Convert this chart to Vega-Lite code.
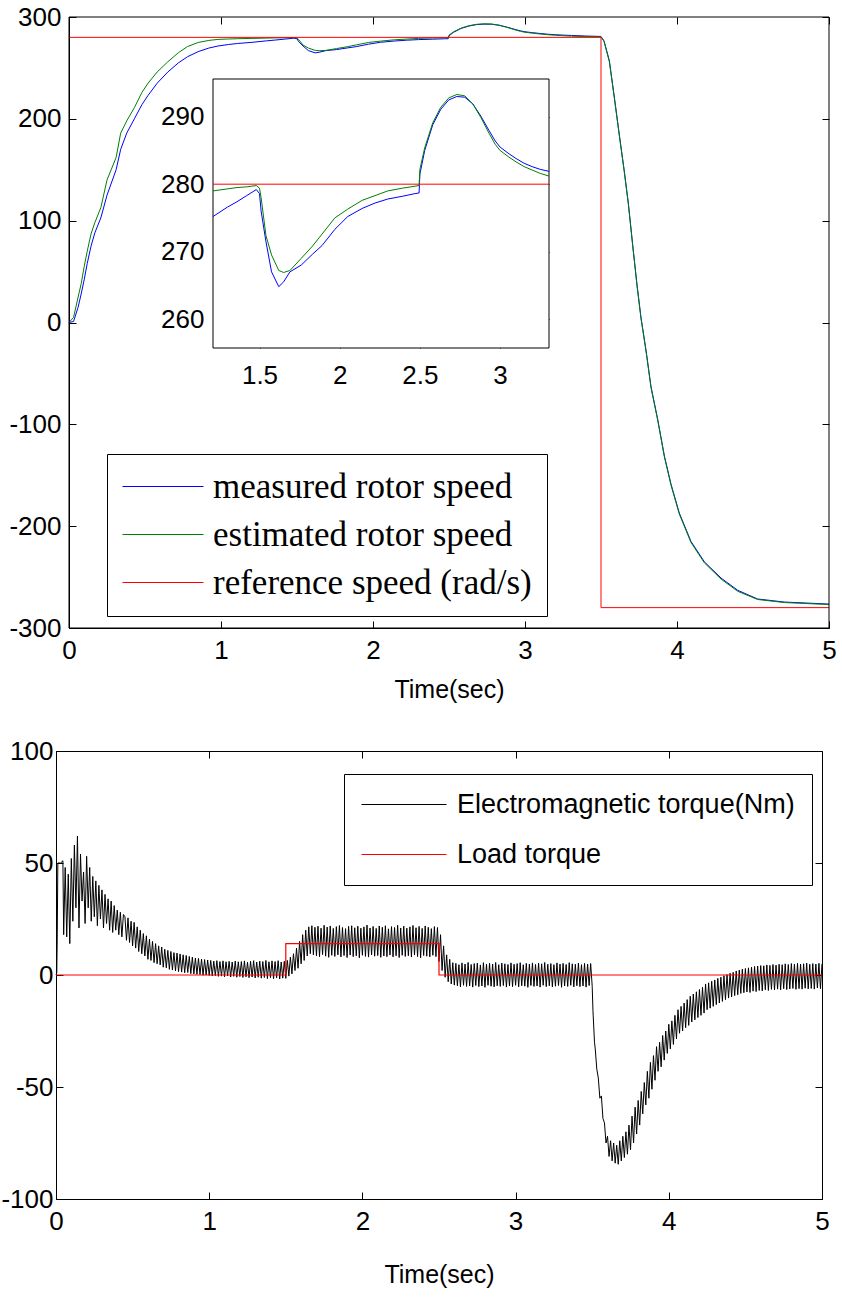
{
  "$schema": "https://vega.github.io/schema/vega-lite/v6.json",
  "background": "white",
  "padding": {"left": 0, "top": 4, "right": 5, "bottom": 5},
  "spacing": 35,
  "resolve": {"scale": {"x": "independent", "y": "independent", "color": "independent"}},
  "config": {
    "view": {"stroke": "black", "strokeWidth": 1},
    "axis": {"grid": false, "labelFont": "Liberation Sans", "labelFontSize": 26, "labelColor": "black", "tickColor": "black", "domainColor": "black", "tickSize": -7, "labelPadding": 15, "labelFlush": false, "labelOverlap": false, "titleFont": "Liberation Sans", "titleFontSize": 25, "titleFontWeight": "normal", "titleColor": "black", "zindex": 1},
    "legend": {"orient": "none", "direction": "vertical", "title": null, "symbolType": "stroke", "symbolStrokeWidth": 1, "strokeColor": "black", "fillColor": "white", "labelColor": "black", "labelLimit": 1000}
  },
  "datasets": {
    "speed": [
      {"t":0,"m":0,"e":0},{"t":0.03,"m":1,"e":5},{"t":0.06,"m":15,"e":25},{"t":0.08,"m":28,"e":38},{"t":0.1,"m":42,"e":55},{"t":0.12,"m":58,"e":70},{"t":0.145,"m":75,"e":87},{"t":0.17,"m":88,"e":98},{"t":0.21,"m":103,"e":113},{"t":0.25,"m":125,"e":140},{"t":0.31,"m":150,"e":162},{"t":0.34,"m":170,"e":186},{"t":0.38,"m":186,"e":198},{"t":0.43,"m":200,"e":211},{"t":0.48,"m":214,"e":226},{"t":0.52,"m":223,"e":235},{"t":0.58,"m":235,"e":246},{"t":0.65,"m":246,"e":256},{"t":0.72,"m":255,"e":265},{"t":0.78,"m":261,"e":271},{"t":0.85,"m":266,"e":275},{"t":0.92,"m":269.5,"e":277},{"t":0.98,"m":271.5,"e":278},{"t":1.05,"m":273,"e":278.4},{"t":1.11,"m":274,"e":278.7},{"t":1.21,"m":275.2,"e":279.0},{"t":1.3,"m":276.6,"e":279.3},{"t":1.36,"m":277.4,"e":279.5},{"t":1.42,"m":278.3,"e":279.6},{"t":1.48,"m":279.2,"e":279.8},{"t":1.5,"m":278.6,"e":279.4},{"t":1.51,"m":276,"e":278},{"t":1.54,"m":271.5,"e":272.4},{"t":1.575,"m":267,"e":269.5},{"t":1.62,"m":264.8,"e":267.2},{"t":1.65,"m":265.5,"e":266.9},{"t":1.69,"m":267,"e":267.2},{"t":1.76,"m":268,"e":269},{"t":1.83,"m":269.6,"e":270.8},{"t":1.89,"m":270.9,"e":272.6},{"t":1.97,"m":273.3,"e":275},{"t":2.05,"m":275.2,"e":276.3},{"t":2.14,"m":276.4,"e":277.6},{"t":2.22,"m":277.2,"e":278.3},{"t":2.3,"m":277.8,"e":279},{"t":2.39,"m":278.2,"e":279.4},{"t":2.47,"m":278.6,"e":279.7},{"t":2.495,"m":278.7,"e":279.8},{"t":2.5,"m":281.5,"e":282.2},{"t":2.53,"m":285,"e":285.4},{"t":2.58,"m":288.8,"e":289.1},{"t":2.63,"m":291.1,"e":291.4},{"t":2.68,"m":292.5,"e":292.8},{"t":2.73,"m":293.0,"e":293.3},{"t":2.78,"m":292.9,"e":293.1},{"t":2.83,"m":291.9,"e":291.9},{"t":2.88,"m":290.1,"e":289.9},{"t":2.93,"m":288.0,"e":287.6},{"t":2.97,"m":286.4,"e":285.9},{"t":3.0,"m":285.5,"e":285.0},{"t":3.05,"m":284.6,"e":284.1},{"t":3.1,"m":283.8,"e":283.3},{"t":3.15,"m":283.1,"e":282.6},{"t":3.2,"m":282.6,"e":282.1},{"t":3.25,"m":282.2,"e":281.6},{"t":3.305,"m":281.9,"e":281.2},{"t":3.4,"m":281.3,"e":280.8},{"t":3.5,"m":280.9,"e":280.6},{"t":3.52,"m":276.5,"e":276},{"t":3.555,"m":257,"e":256},{"t":3.588,"m":221,"e":220},{"t":3.62,"m":185,"e":184},{"t":3.653,"m":149,"e":148},{"t":3.68,"m":117,"e":116},{"t":3.708,"m":77,"e":76},{"t":3.737,"m":37,"e":36},{"t":3.763,"m":5,"e":4},{"t":3.796,"m":-27,"e":-28},{"t":3.829,"m":-63,"e":-64},{"t":3.873,"m":-95,"e":-96},{"t":3.917,"m":-131,"e":-132},{"t":3.961,"m":-159,"e":-160},{"t":4.015,"m":-187,"e":-188},{"t":4.092,"m":-215,"e":-216},{"t":4.18,"m":-235,"e":-236},{"t":4.29,"m":-251,"e":-252},{"t":4.4,"m":-263,"e":-264},{"t":4.53,"m":-271.5,"e":-272},{"t":4.706,"m":-274.5,"e":-275},{"t":5,"m":-276.5,"e":-277}
    ],
    "ref": [
      {"t":0,"r":280},{"t":1.21,"r":280},{"t":3.305,"r":280},{"t":3.5,"r":-280},{"t":5,"r":-280}
    ],
    "load": [
      {"t":0,"L":0},{"t":1.5,"L":14},{"t":2.5,"L":0},{"t":5,"L":0}
    ],
    "torque": [
      {"t":0,"E":0},{"t":0.005,"E":1},{"t":0.008,"E":16},{"t":0.012,"E":50},{"t":0.03,"E":50},{"t":0.045,"E":51},{"t":0.05,"E":18},{"t":0.06,"E":48},{"t":0.07,"E":17},{"t":0.08,"E":45},{"t":0.09,"E":14},{"t":0.1,"E":52},{"t":0.11,"E":24},{"t":0.12,"E":58},{"t":0.13,"E":30},{"t":0.14,"E":62},{"t":0.15,"E":21},{"t":0.16,"E":54},{"t":0.17,"E":33},{"t":0.18,"E":46},{"t":0.19,"E":23},{"t":0.2,"E":53},{"t":0.21,"E":30},{"t":0.22,"E":48},{"t":0.23,"E":24},{"t":0.24,"E":44},{"t":0.25,"E":26},{"t":0.26,"E":42},{"t":0.27,"E":22},{"t":0.28,"E":40},{"t":0.29,"E":25},{"t":0.3,"E":38},{"t":0.31,"E":21},{"t":0.32,"E":36},{"t":0.33,"E":23},{"t":0.34,"E":34},{"t":0.35,"E":20},{"t":0.36,"E":33},{"t":0.37,"E":19},{"t":0.38,"E":31},{"t":0.39,"E":20},{"t":0.4,"E":29},{"t":0.41,"E":18},{"t":0.42,"E":28},{"t":0.43,"E":17},{"t":0.44,"E":27},
      {"t":0.45,"E":26},{"t":0.46,"E":15.5},{"t":0.47,"E":25.5},{"t":0.48,"E":14.5},{"t":0.49,"E":24},{"t":0.5,"E":13},{"t":0.51,"E":23.5},{"t":0.52,"E":12},{"t":0.53,"E":21.5},{"t":0.54,"E":10.5},{"t":0.55,"E":20},{"t":0.56,"E":9.5},{"t":0.57,"E":18.5},{"t":0.58,"E":8.5},{"t":0.59,"E":17.5},{"t":0.6,"E":7},{"t":0.61,"E":16},{"t":0.62,"E":6.5},{"t":0.63,"E":15},{"t":0.64,"E":5.5},{"t":0.65,"E":14},{"t":0.66,"E":5},{"t":0.67,"E":13},{"t":0.68,"E":4.5},{"t":0.69,"E":12.5},{"t":0.7,"E":3.5},{"t":0.71,"E":11.5},{"t":0.72,"E":3.2},{"t":0.73,"E":11},{"t":0.74,"E":2.5},{"t":0.75,"E":10.5},{"t":0.76,"E":2.2},{"t":0.77,"E":10},{"t":0.78,"E":1.8},{"t":0.79,"E":9.8},{"t":0.8,"E":1.5},{"t":0.81,"E":9.4},{"t":0.82,"E":1.3},{"t":0.83,"E":9},{"t":0.84,"E":1},{"t":0.85,"E":8.7},{"t":0.86,"E":1.1},{"t":0.87,"E":8.3},{"t":0.88,"E":0.6},{"t":0.89,"E":8},{"t":0.9,"E":0.5},{"t":0.91,"E":7.6},{"t":0.92,"E":0.3},{"t":0.93,"E":7.4},{"t":0.94,"E":0.2},{"t":0.95,"E":7.1},{"t":0.96,"E":-0.1},{"t":0.97,"E":6.9},{"t":0.98,"E":0},{"t":0.99,"E":6.7},
      {"t":1.0,"E":-0.2},{"t":1.01,"E":6.5},{"t":1.02,"E":-0.4},{"t":1.03,"E":6.2},{"t":1.04,"E":-0.3},{"t":1.05,"E":6.4},{"t":1.06,"E":-0.6},{"t":1.07,"E":6},{"t":1.08,"E":-0.5},{"t":1.09,"E":6.3},{"t":1.1,"E":-0.8},{"t":1.11,"E":5.9},{"t":1.12,"E":-0.4},{"t":1.13,"E":6.1},{"t":1.14,"E":-0.9},{"t":1.15,"E":5.8},{"t":1.16,"E":-0.6},{"t":1.17,"E":6.2},{"t":1.18,"E":-1},{"t":1.19,"E":5.9},{"t":1.2,"E":-0.7},{"t":1.21,"E":6},{"t":1.22,"E":-1.1},{"t":1.23,"E":6.3},{"t":1.24,"E":-0.8},{"t":1.25,"E":5.7},{"t":1.26,"E":-1.2},{"t":1.27,"E":6.1},{"t":1.28,"E":-0.9},{"t":1.29,"E":6.4},{"t":1.3,"E":-1.3},{"t":1.31,"E":5.8},{"t":1.32,"E":-1},{"t":1.33,"E":6.2},{"t":1.34,"E":-1.4},{"t":1.35,"E":6},{"t":1.36,"E":-1.1},{"t":1.37,"E":6.5},{"t":1.38,"E":-1.6},{"t":1.39,"E":5.9},{"t":1.4,"E":-1.2},{"t":1.41,"E":6.3},{"t":1.42,"E":-1.7},{"t":1.43,"E":6},{"t":1.44,"E":-1.3},{"t":1.45,"E":6.4},{"t":1.46,"E":-1.8},{"t":1.47,"E":5.8},{"t":1.48,"E":-1.4},{"t":1.49,"E":6.1},
      {"t":1.5,"E":-1.5},{"t":1.51,"E":6.5},{"t":1.52,"E":-0.5},{"t":1.53,"E":8},{"t":1.54,"E":0.5},{"t":1.55,"E":9.5},{"t":1.56,"E":2},{"t":1.57,"E":12},{"t":1.58,"E":3},{"t":1.59,"E":15},{"t":1.6,"E":5},{"t":1.61,"E":18},{"t":1.62,"E":6.5},{"t":1.63,"E":20},{"t":1.64,"E":8.5},{"t":1.65,"E":21.5},{"t":1.66,"E":9.5},{"t":1.67,"E":22},{"t":1.68,"E":9},{"t":1.69,"E":21.3},{"t":1.7,"E":8.6},{"t":1.71,"E":21.8},{"t":1.72,"E":8.2},{"t":1.73,"E":20.9},{"t":1.74,"E":9.1},{"t":1.75,"E":22.2},{"t":1.76,"E":8.4},{"t":1.77,"E":21.4},{"t":1.78,"E":7.9},{"t":1.79,"E":21.9},{"t":1.8,"E":8.8},{"t":1.81,"E":20.8},{"t":1.82,"E":8.3},{"t":1.83,"E":21.6},{"t":1.84,"E":9},{"t":1.85,"E":22.1},{"t":1.86,"E":8.1},{"t":1.87,"E":21.2},{"t":1.88,"E":8.7},{"t":1.89,"E":20.7},{"t":1.9,"E":7.8},{"t":1.91,"E":21.7},{"t":1.92,"E":8.9},{"t":1.93,"E":22},{"t":1.94,"E":8.2},{"t":1.95,"E":21.1},{"t":1.96,"E":8.6},{"t":1.97,"E":21.8},{"t":1.98,"E":7.7},{"t":1.99,"E":20.9},
      {"t":2.0,"E":8.8},{"t":2.01,"E":21.5},{"t":2.02,"E":8.3},{"t":2.03,"E":22.3},{"t":2.04,"E":8},{"t":2.05,"E":21},{"t":2.06,"E":9},{"t":2.07,"E":21.7},{"t":2.08,"E":8.4},{"t":2.09,"E":20.8},{"t":2.1,"E":8.7},{"t":2.11,"E":21.9},{"t":2.12,"E":7.9},{"t":2.13,"E":21.3},{"t":2.14,"E":8.5},{"t":2.15,"E":22},{"t":2.16,"E":8.2},{"t":2.17,"E":20.6},{"t":2.18,"E":8.9},{"t":2.19,"E":21.6},{"t":2.2,"E":8.1},{"t":2.21,"E":21.2},{"t":2.22,"E":8.6},{"t":2.23,"E":22.2},{"t":2.24,"E":7.8},{"t":2.25,"E":21},{"t":2.26,"E":8.8},{"t":2.27,"E":21.8},{"t":2.28,"E":8.3},{"t":2.29,"E":20.9},{"t":2.3,"E":8.6},{"t":2.31,"E":21.5},{"t":2.32,"E":8},{"t":2.33,"E":22.1},{"t":2.34,"E":8.9},{"t":2.35,"E":21.1},{"t":2.36,"E":8.2},{"t":2.37,"E":21.7},{"t":2.38,"E":7.7},{"t":2.39,"E":20.8},{"t":2.4,"E":8.7},{"t":2.41,"E":21.9},{"t":2.42,"E":8.4},{"t":2.43,"E":21.3},{"t":2.44,"E":8.1},{"t":2.45,"E":20.7},{"t":2.46,"E":8.8},{"t":2.47,"E":21.6},{"t":2.48,"E":8.2},{"t":2.49,"E":21.2},
      {"t":2.5,"E":6},{"t":2.51,"E":18},{"t":2.52,"E":2},{"t":2.53,"E":13},{"t":2.54,"E":-1},{"t":2.55,"E":9},{"t":2.56,"E":-3},{"t":2.57,"E":7},{"t":2.58,"E":-4},{"t":2.59,"E":5.5},{"t":2.6,"E":-4.5},{"t":2.61,"E":5.2},{"t":2.62,"E":-4.8},{"t":2.63,"E":4.6},{"t":2.64,"E":-5.3},{"t":2.65,"E":5.4},{"t":2.66,"E":-4.6},{"t":2.67,"E":4.9},{"t":2.68,"E":-5.1},{"t":2.69,"E":5.6},{"t":2.7,"E":-4.9},{"t":2.71,"E":4.7},{"t":2.72,"E":-5.4},{"t":2.73,"E":5.1},{"t":2.74,"E":-4.7},{"t":2.75,"E":5.3},{"t":2.76,"E":-5.2},{"t":2.77,"E":4.5},{"t":2.78,"E":-4.9},{"t":2.79,"E":5.5},{"t":2.8,"E":-5.5},{"t":2.81,"E":4.8},{"t":2.82,"E":-4.6},{"t":2.83,"E":5.2},{"t":2.84,"E":-5},{"t":2.85,"E":4.9},{"t":2.86,"E":-5.3},{"t":2.87,"E":5.6},{"t":2.88,"E":-4.8},{"t":2.89,"E":4.6},{"t":2.9,"E":-5.1},{"t":2.91,"E":5.3},{"t":2.92,"E":-4.7},{"t":2.93,"E":5},{"t":2.94,"E":-5.4},{"t":2.95,"E":4.7},{"t":2.96,"E":-4.9},{"t":2.97,"E":5.4},{"t":2.98,"E":-5.2},{"t":2.99,"E":4.8},
      {"t":3.0,"E":-4.6},{"t":3.01,"E":5.1},{"t":3.02,"E":-5.3},{"t":3.03,"E":5.5},{"t":3.04,"E":-4.8},{"t":3.05,"E":4.6},{"t":3.06,"E":-5},{"t":3.07,"E":5.2},{"t":3.08,"E":-5.5},{"t":3.09,"E":4.9},{"t":3.1,"E":-4.7},{"t":3.11,"E":5.4},{"t":3.12,"E":-5.1},{"t":3.13,"E":4.7},{"t":3.14,"E":-4.9},{"t":3.15,"E":5.3},{"t":3.16,"E":-5.4},{"t":3.17,"E":5},{"t":3.18,"E":-4.6},{"t":3.19,"E":5.6},{"t":3.2,"E":-5.2},{"t":3.21,"E":4.8},{"t":3.22,"E":-4.8},{"t":3.23,"E":5.1},{"t":3.24,"E":-5.3},{"t":3.25,"E":4.6},{"t":3.26,"E":-5},{"t":3.27,"E":5.4},{"t":3.28,"E":-4.7},{"t":3.29,"E":4.9},{"t":3.3,"E":-5.5},{"t":3.31,"E":5.2},{"t":3.32,"E":-4.9},{"t":3.33,"E":4.7},{"t":3.34,"E":-5.1},{"t":3.35,"E":5.5},{"t":3.36,"E":-4.6},{"t":3.37,"E":5},{"t":3.38,"E":-5.3},{"t":3.39,"E":4.8},{"t":3.4,"E":-4.8},{"t":3.41,"E":5.3},{"t":3.42,"E":-5.2},{"t":3.43,"E":4.6},{"t":3.44,"E":-4.9},{"t":3.45,"E":5.2},{"t":3.46,"E":-5.4},{"t":3.47,"E":4.9},{"t":3.48,"E":-4.7},{"t":3.49,"E":5.1},
      {"t":3.5,"E":-5},{"t":3.505,"E":-16},{"t":3.515,"E":-30},{"t":3.52,"E":-33},{"t":3.53,"E":-42},{"t":3.54,"E":-46},{"t":3.55,"E":-55},{"t":3.56,"E":-54},{"t":3.57,"E":-64},{"t":3.58,"E":-66},{"t":3.59,"E":-75},{"t":3.6,"E":-72},{"t":3.61,"E":-81},{"t":3.62,"E":-74},{"t":3.63,"E":-83},{"t":3.64,"E":-75},{"t":3.65,"E":-84},{"t":3.66,"E":-76},{"t":3.67,"E":-84.5},{"t":3.68,"E":-74},{"t":3.69,"E":-83},{"t":3.7,"E":-72},{"t":3.71,"E":-81.5},{"t":3.72,"E":-70},{"t":3.73,"E":-80},{"t":3.74,"E":-67},{"t":3.75,"E":-78},{"t":3.76,"E":-63},{"t":3.77,"E":-75},{"t":3.78,"E":-59},{"t":3.79,"E":-71},{"t":3.8,"E":-56},{"t":3.81,"E":-67},{"t":3.82,"E":-52},{"t":3.83,"E":-62},{"t":3.84,"E":-48},{"t":3.85,"E":-58},{"t":3.86,"E":-43},{"t":3.87,"E":-55},{"t":3.88,"E":-39},{"t":3.89,"E":-51},{"t":3.9,"E":-36},{"t":3.91,"E":-47},{"t":3.92,"E":-32},{"t":3.93,"E":-43},{"t":3.94,"E":-30},{"t":3.95,"E":-41},{"t":3.96,"E":-27},{"t":3.97,"E":-38},{"t":3.98,"E":-25},{"t":3.99,"E":-35},
      {"t":4.0,"E":-22},{"t":4.01,"E":-33},{"t":4.02,"E":-20.5},{"t":4.03,"E":-31},{"t":4.04,"E":-18},{"t":4.05,"E":-28.5},{"t":4.06,"E":-15.5},{"t":4.07,"E":-26},{"t":4.08,"E":-14},{"t":4.09,"E":-25},{"t":4.1,"E":-12.5},{"t":4.11,"E":-23.5},{"t":4.12,"E":-11},{"t":4.13,"E":-22.5},{"t":4.14,"E":-9.5},{"t":4.15,"E":-21},{"t":4.16,"E":-8.5},{"t":4.17,"E":-20},{"t":4.18,"E":-7.5},{"t":4.19,"E":-19},{"t":4.2,"E":-6.5},{"t":4.21,"E":-18},{"t":4.22,"E":-5.5},{"t":4.23,"E":-17},{"t":4.24,"E":-4},{"t":4.25,"E":-15.5},{"t":4.26,"E":-3.5},{"t":4.27,"E":-14.8},{"t":4.28,"E":-2.8},{"t":4.29,"E":-14},{"t":4.3,"E":-2.2},{"t":4.31,"E":-13.2},{"t":4.32,"E":-1.5},{"t":4.33,"E":-12.5},{"t":4.34,"E":-1},{"t":4.35,"E":-11.8},{"t":4.36,"E":-0.3},{"t":4.37,"E":-11},{"t":4.38,"E":0.2},{"t":4.39,"E":-10.3},{"t":4.4,"E":0.8},{"t":4.41,"E":-9.8},{"t":4.42,"E":1.2},{"t":4.43,"E":-9.2},{"t":4.44,"E":1.8},{"t":4.45,"E":-8.8},{"t":4.46,"E":2.2},{"t":4.47,"E":-8.2},{"t":4.48,"E":2.6},{"t":4.49,"E":-7.9},
      {"t":4.5,"E":2.9},{"t":4.51,"E":-7.6},{"t":4.52,"E":3.2},{"t":4.53,"E":-7.8},{"t":4.54,"E":3.5},{"t":4.55,"E":-7.2},{"t":4.56,"E":3.8},{"t":4.57,"E":-7.4},{"t":4.58,"E":4},{"t":4.59,"E":-6.9},{"t":4.6,"E":4.2},{"t":4.61,"E":-7.1},{"t":4.62,"E":4.1},{"t":4.63,"E":-6.6},{"t":4.64,"E":4.5},{"t":4.65,"E":-6.9},{"t":4.66,"E":4.3},{"t":4.67,"E":-6.4},{"t":4.68,"E":4.7},{"t":4.69,"E":-6.7},{"t":4.7,"E":4.4},{"t":4.71,"E":-6.3},{"t":4.72,"E":4.8},{"t":4.73,"E":-6.6},{"t":4.74,"E":4.6},{"t":4.75,"E":-6.1},{"t":4.76,"E":5},{"t":4.77,"E":-6.5},{"t":4.78,"E":4.7},{"t":4.79,"E":-6.2},{"t":4.8,"E":5.1},{"t":4.81,"E":-6},{"t":4.82,"E":4.8},{"t":4.83,"E":-6.4},{"t":4.84,"E":5.2},{"t":4.85,"E":-6.1},{"t":4.86,"E":4.9},{"t":4.87,"E":-6.3},{"t":4.88,"E":5},{"t":4.89,"E":-5.9},{"t":4.9,"E":5.3},{"t":4.91,"E":-6.2},{"t":4.92,"E":4.8},{"t":4.93,"E":-6},{"t":4.94,"E":5.1},{"t":4.95,"E":-6.3},{"t":4.96,"E":4.9},{"t":4.97,"E":-5.8},{"t":4.98,"E":5.2},{"t":4.99,"E":-6.1},{"t":5.0,"E":5}
    ]
  },
  "vconcat": [
    {
      "width": 773,
      "height": 611,
      "view": {"stroke": null},
      "layer": [
        {
          "layer": [
            {
              "data": {"name": "speed"},
              "transform": [{"fold": ["m", "e"], "as": ["s", "v"]}],
              "mark": {"type": "line", "strokeWidth": 1},
              "encoding": {
                "x": {"field": "t", "type": "quantitative", "scale": {"domain": [0, 5], "range": [13, 773], "nice": false},
                      "axis": {"orient": "bottom", "values": [0, 1, 2, 3, 4, 5], "format": "d", "title": "Time(sec)", "labelPadding": 16, "titlePadding": 14}},
                "y": {"field": "v", "type": "quantitative", "scale": {"domain": [-300, 300], "nice": false},
                      "axis": {"orient": "left", "offset": -13, "values": [-300, -200, -100, 0, 100, 200, 300], "format": "d", "title": null, "labelPadding": 15, "labelExpr": "replace(datum.label, '\u2212', '-')"}},
                "color": {"field": "s", "type": "nominal",
                          "scale": {"domain": ["m", "e", "r"], "range": ["#0000ff", "#008000", "#ff0000"]},
                          "legend": {"legendX": 51, "legendY": 437, "symbolSize": 6561, "clipHeight": 35, "labelFont": "Liberation Serif", "labelFontSize": 35, "labelOffset": 9, "rowPadding": 12, "padding": 15,
                                     "labelExpr": "datum.value == 'm' ? 'measured rotor speed' : datum.value == 'e' ? 'estimated rotor speed' : 'reference speed (rad/s)'",
                                     "encode": {"symbols": {"update": {"stroke": {"signal": "datum.value == 'm' ? '#0000ff' : datum.value == 'e' ? '#008000' : '#ff0000'"}}}}}}
              }
            },
            {
              "data": {"name": "ref"},
              "transform": [{"fold": ["r"], "as": ["s", "v"]}],
              "mark": {"type": "line", "strokeWidth": 1, "interpolate": "step-after"},
              "encoding": {
                "x": {"field": "t", "type": "quantitative", "axis": {"orient": "top", "values": [0, 1, 2, 3, 4, 5], "labels": false, "domain": false, "title": null}},
                "y": {"field": "v", "type": "quantitative", "axis": {"orient": "right", "values": [-300, -200, -100, 0, 100, 200, 300], "labels": false, "domain": false, "title": null}},
                "color": {"field": "s", "type": "nominal"}
              }
            },
            {
              "data": {"values": [{}]},
              "mark": {"type": "rect", "fillOpacity": 0, "stroke": "black", "strokeWidth": 1},
              "encoding": {
                "x": {"datum": 0, "type": "quantitative", "axis": null},
                "x2": {"datum": 5},
                "y": {"datum": -300, "type": "quantitative", "axis": null},
                "y2": {"datum": 300}
              }
            }
          ],
          "resolve": {"axis": {"x": "independent", "y": "independent"}}
        },
        {
          "layer": [
            {
              "data": {"values": [{}]},
              "mark": {"type": "rect", "fill": "white", "stroke": "black", "strokeWidth": 1},
              "encoding": {
                "x": {"datum": 1.21, "type": "quantitative", "scale": {"domain": [1.21, 3.305], "range": [157, 493], "nice": false, "zero": false},
                      "axis": {"orient": "bottom", "offset": -280, "values": [1.5, 2, 2.5, 3], "format": "~g", "title": null, "labelPadding": 21, "domain": false}},
                "x2": {"datum": 3.305},
                "y": {"datum": 255.7, "type": "quantitative", "scale": {"domain": [255.7, 295.6], "range": [331, 62], "nice": false, "zero": false},
                      "axis": {"orient": "left", "offset": -157, "values": [260, 270, 280, 290], "format": "d", "title": null, "labelPadding": 16, "domain": false}},
                "y2": {"datum": 295.6}
              }
            },
            {
              "data": {"name": "speed"},
              "transform": [{"filter": {"field": "t", "range": [1.21, 3.305]}}, {"fold": ["m", "e"], "as": ["s", "v"]}],
              "mark": {"type": "line", "strokeWidth": 1},
              "encoding": {
                "x": {"field": "t", "type": "quantitative", "axis": null},
                "y": {"field": "v", "type": "quantitative", "axis": null},
                "color": {"field": "s", "type": "nominal"}
              }
            },
            {
              "data": {"name": "ref"},
              "transform": [{"filter": {"field": "t", "range": [1.21, 3.305]}}, {"fold": ["r"], "as": ["s", "v"]}],
              "mark": {"type": "line", "strokeWidth": 1},
              "encoding": {
                "x": {"field": "t", "type": "quantitative", "axis": {"orient": "top", "offset": -62, "values": [1.5, 2, 2.5, 3], "labels": false, "domain": false, "title": null}},
                "y": {"field": "v", "type": "quantitative", "axis": {"orient": "right", "offset": -280, "values": [260, 270, 280, 290], "labels": false, "domain": false, "title": null}},
                "color": {"field": "s", "type": "nominal"}
              }
            }
          ],
          "resolve": {"axis": {"x": "independent", "y": "independent"}}
        }
      ],
      "resolve": {"scale": {"x": "independent", "y": "independent"}}
    },
    {
      "width": 766,
      "height": 448,
      "layer": [
        {
          "data": {"name": "torque"},
          "transform": [{"fold": ["E"], "as": ["s", "v"]}],
          "mark": {"type": "line", "strokeWidth": 1},
          "encoding": {
            "x": {"field": "t", "type": "quantitative", "scale": {"domain": [0, 5], "nice": false},
                  "axis": {"orient": "bottom", "values": [0, 1, 2, 3, 4, 5], "format": "d", "title": "Time(sec)", "labelPadding": 16, "titlePadding": 28}},
            "y": {"field": "v", "type": "quantitative", "scale": {"domain": [-100, 100], "nice": false},
                  "axis": {"orient": "left", "values": [-100, -50, 0, 50, 100], "format": "d", "title": null, "labelPadding": 10, "labelExpr": "replace(datum.label, '\u2212', '-')"}},
            "color": {"field": "s", "type": "nominal",
                      "scale": {"domain": ["E", "L"], "range": ["#000000", "#ff0000"]},
                      "legend": {"legendX": 288, "legendY": 23, "symbolSize": 7225, "clipHeight": 27, "labelFont": "Liberation Sans", "labelFontSize": 27, "labelOffset": 10, "rowPadding": 22, "padding": 17,
                                 "labelExpr": "datum.value == 'E' ? 'Electromagnetic torque(Nm)' : 'Load torque'",
                                 "encode": {"symbols": {"update": {"stroke": {"signal": "datum.value == 'E' ? '#000000' : '#ff0000'"}}}}}}
          }
        },
        {
          "data": {"name": "load"},
          "transform": [{"fold": ["L"], "as": ["s", "v"]}],
          "mark": {"type": "line", "strokeWidth": 1.2, "interpolate": "step-after"},
          "encoding": {
            "x": {"field": "t", "type": "quantitative", "axis": {"orient": "top", "values": [0, 1, 2, 3, 4, 5], "labels": false, "domain": false, "title": null}},
            "y": {"field": "v", "type": "quantitative", "axis": {"orient": "right", "values": [-100, -50, 0, 50, 100], "labels": false, "domain": false, "title": null}},
            "color": {"field": "s", "type": "nominal"}
          }
        }
      ],
      "resolve": {"axis": {"x": "independent", "y": "independent"}}
    }
  ]
}
